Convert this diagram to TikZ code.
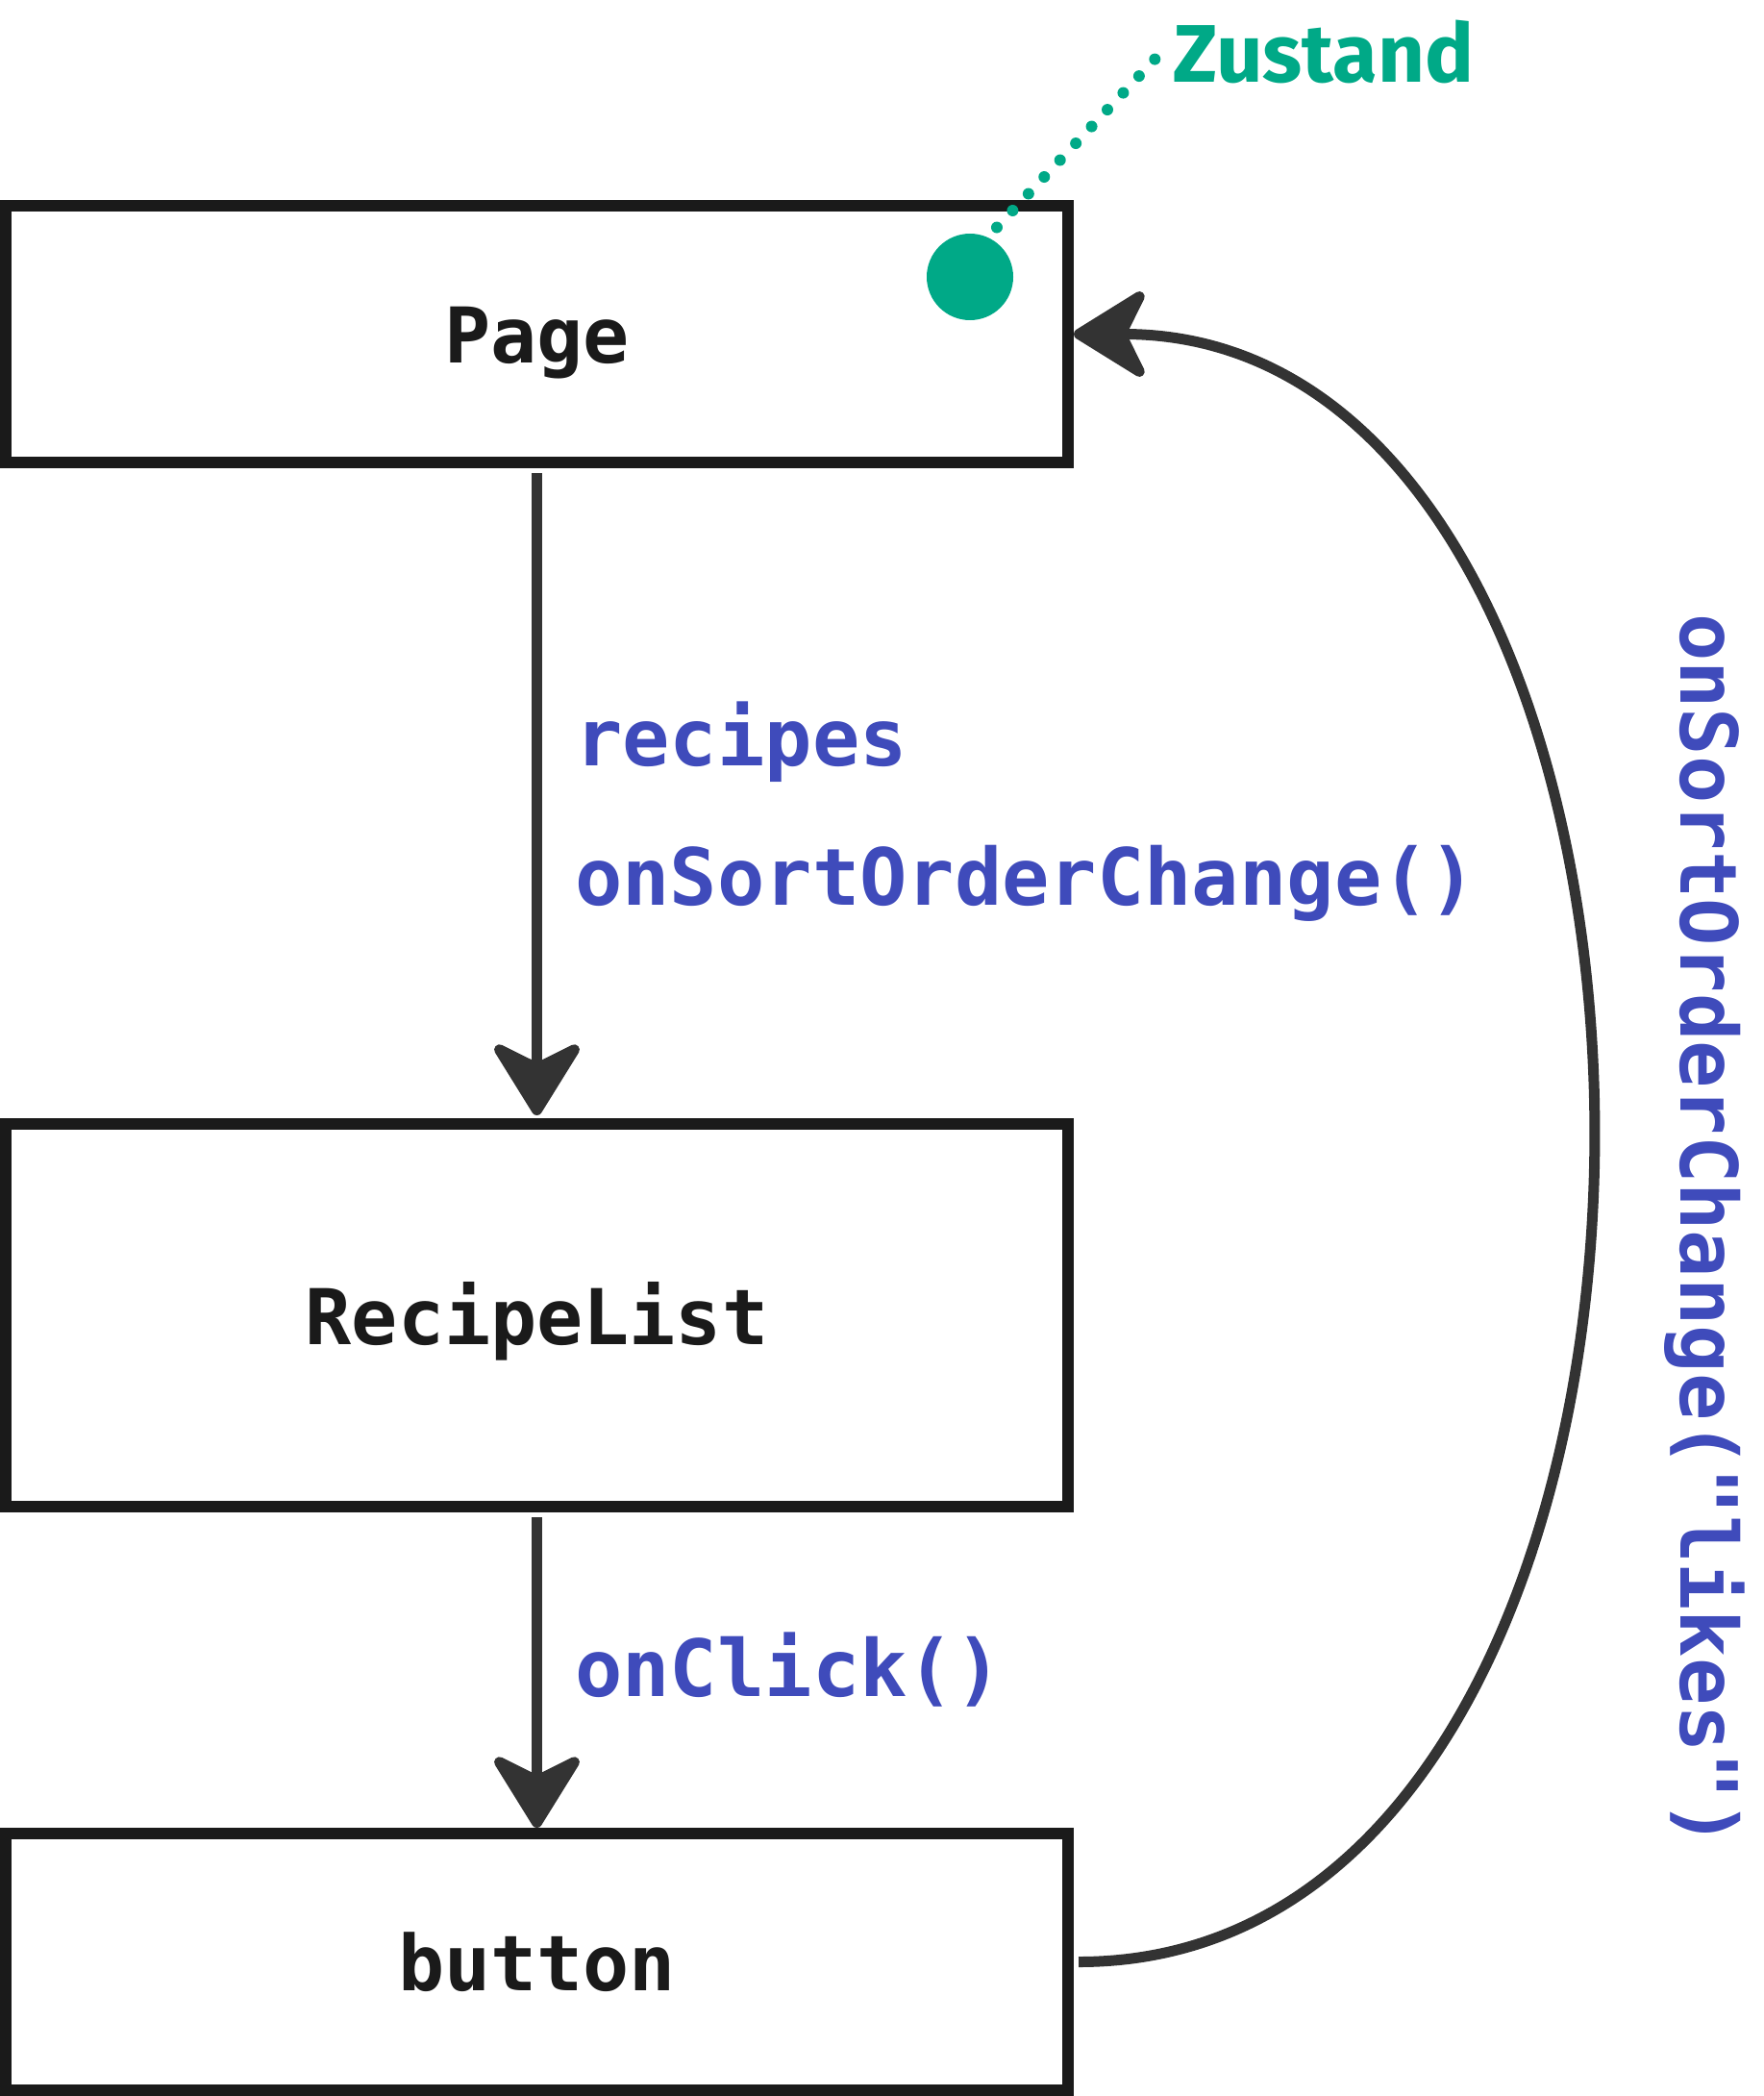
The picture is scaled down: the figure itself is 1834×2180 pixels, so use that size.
\documentclass[tikz,border=0pt]{standalone}
\usepackage{fontspec}
\setmonofont{DejaVu Sans Mono}
\newfontfamily\statefont{Fira Sans}
\usepackage{tikz}
\usetikzlibrary{arrows.meta,positioning}
\definecolor{boxblack}{HTML}{1A1A1A}
\definecolor{arrowgray}{HTML}{333333}
\definecolor{propblue}{HTML}{3F4BBB}
\definecolor{stategreen}{HTML}{00A987}
\tikzstyle{comp}=[rectangle,draw=boxblack,line width=12bp,minimum width=1105bp,text=boxblack,text height=60bp,text depth=0bp,font=\ttfamily\bfseries\fontsize{80bp}{96bp}\selectfont]
\tikzstyle{prop}=[text=propblue,inner sep=0pt,font=\ttfamily\bfseries\fontsize{82bp}{96bp}\selectfont]
\tikzstyle{flow}=[arrowgray,line width=11bp,-{Stealth[length=86bp,width=106bp,inset=26bp,round]}]
\tikzstyle{hint}=[stategreen,line width=12bp,line cap=round,dash pattern=on 0bp off 24bp]

\begin{document}
\begin{tikzpicture}
  [x=1bp,y=-1bp]
\useasboundingbox (0,0) rectangle (1834,2180);
\node[comp,minimum height=267bp] (page) at (558.5,347.5) {Page};
\node[comp,minimum height=398bp] (list) at (558.5,1368) {RecipeList};
\node[comp,minimum height=267bp] (btn) at (558.5,2040.5) {button};
\node[circle,fill=stategreen,minimum size=90bp,inner sep=0pt] (state) at (1009,288) {};
\node[anchor=base west,text=stategreen,inner sep=12bp,font=\statefont\bfseries\fontsize{85bp}{100bp}\selectfont] (zustand) at (1208,86) {Zustand};
\node[prop,anchor=base west] (recipes) at (598,796) {recipes};
\node[prop,anchor=base west] (sortprop) at (598,941) {onSortOrderChange()};
\node[prop,anchor=base west] (clickprop) at (598,1764) {onClick()};
\node[prop,anchor=base,rotate=-90] (sortcall) at (1748,1280) {onSortOrderChange("likes")};
\draw[hint,shorten <=14bp] (state.66) -- (zustand.west);
\path[flow]
(page) edge[shorten <=5bp,shorten >=3bp] (list)
(list) edge[shorten <=5bp] (btn);
\draw[flow,shorten <=5bp] (btn.east) .. controls +(720,0) and +(706,0) .. (page.east);
\end{tikzpicture}
\end{document}
